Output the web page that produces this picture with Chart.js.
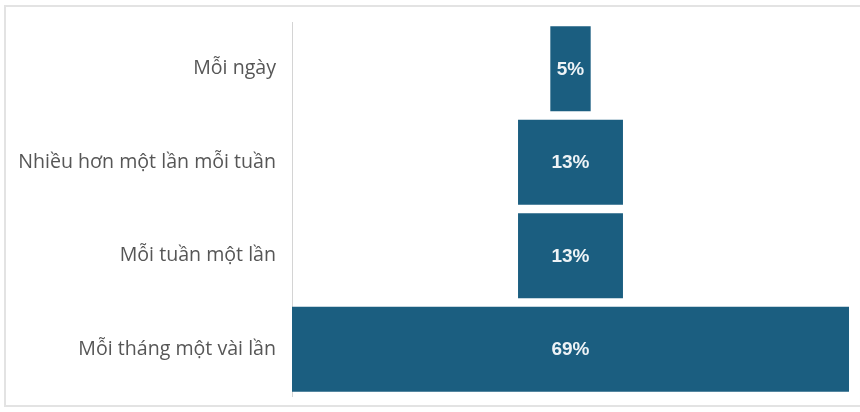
<!DOCTYPE html>
<html>
<head>
<meta charset="utf-8">
<script src="https://cdn.jsdelivr.net/npm/chart.js@4/dist/chart.umd.min.js"></script>
<style>
  html, body { margin: 0; padding: 0; background: #ffffff; }
  #wrap { position: relative; width: 860px; height: 412px; }
</style>
</head>
<body>
<div id="wrap"><canvas id="chart" width="860" height="412"></canvas></div>
<script>
// Tần suất – phân bố theo dạng phễu
const categories = ['Mỗi ngày', 'Nhiều hơn một lần mỗi tuần', 'Mỗi tuần một lần', 'Mỗi tháng một vài lần'];
const shares = [5, 13, 13, 69];
const shareLabels = ['5%', '13%', '13%', '69%'];

const maxShare = Math.max(...shares);
// Each bar is centred on zero so the set reads as a funnel
const funnelRanges = shares.map(v => [-v / 2, v / 2]);

const frame = {
  id: 'frame',
  beforeDraw(chart) {
    const ctx = chart.ctx;
    ctx.save();
    ctx.strokeStyle = '#e3e3e3';
    ctx.lineWidth = 2;
    ctx.beginPath();
    ctx.moveTo(860, 6);
    ctx.lineTo(5, 6);
    ctx.lineTo(5, 406);
    ctx.lineTo(860, 406);
    ctx.stroke();
    ctx.restore();
  }
};

const valueText = {
  id: 'valueText',
  afterDatasetsDraw(chart) {
    const ctx = chart.ctx;
    const meta = chart.getDatasetMeta(0);
    ctx.save();
    ctx.fillStyle = '#eef3f6';
    ctx.font = 'bold 19px "Liberation Sans", Arial, sans-serif';
    ctx.textAlign = 'center';
    ctx.textBaseline = 'middle';
    meta.data.forEach((bar, i) => {
      const p = bar.getProps(['x', 'base', 'y'], true);
      ctx.fillText(shareLabels[i], (p.x + p.base) / 2, p.y + 1);
    });
    ctx.restore();
  }
};

new Chart(document.getElementById('chart'), {
  type: 'bar',
  data: {
    labels: categories,
    datasets: [{
      data: funnelRanges,
      backgroundColor: '#1b5e80',
      borderWidth: 0,
      barPercentage: 1,
      categoryPercentage: 0.91
    }]
  },
  options: {
    indexAxis: 'y',
    responsive: false,
    animation: false,
    layout: { padding: { top: 22, bottom: 16, right: 11, left: 0 } },
    plugins: {
      legend: { display: false },
      tooltip: { enabled: false }
    },
    scales: {
      x: {
        min: -maxShare / 2,
        max: maxShare / 2,
        display: false,
        grid: { display: false }
      },
      y: {
        afterFit(scale) {
          scale.width = 292;
          scale.paddingTop = 0;
          scale.paddingBottom = 0;
        },
        grid: { display: false, drawTicks: false },
        border: { display: true, color: '#d4d4d4', width: 1 },
        ticks: {
          padding: 16,
          color: '#565656',
          font: { family: '"Open Sans", "Noto Sans", sans-serif', size: 19.6 }
        }
      }
    }
  },
  plugins: [frame, valueText]
});
</script>
</body>
</html>
